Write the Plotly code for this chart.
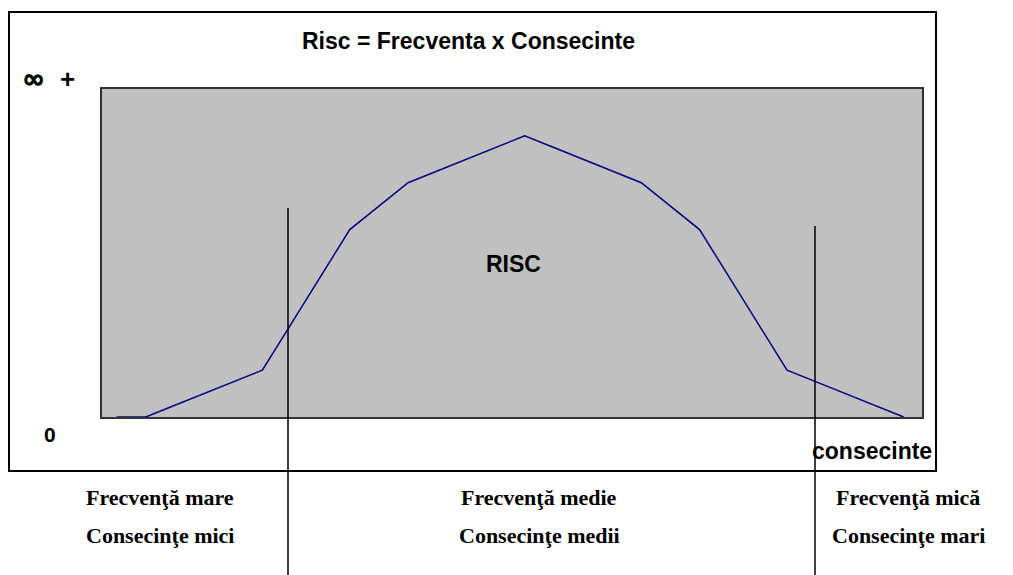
import plotly.graph_objects as go

# ---- data ----
categories = list(range(28))
risc_values = [0, 0, 1, 2, 3, 4, 8, 12, 16, 18, 20, 21, 22, 23, 24,
               23, 22, 21, 20, 18, 16, 12, 8, 4, 3, 2, 1, 0]
title_text = "Risc = Frecventa x Consecinte"
bottom_line1 = ["Frecvenţă mare", "Frecvenţă medie", "Frecvenţă mică"]
bottom_line2 = ["Consecinţe mici", "Consecinţe medii", "Consecinţe mari"]

# ---- layout geometry (screen pixels; page body has an 8px offset) ----
W, H = 1013, 575
OFF = 8
PL, PT, PR, PB = 102, 89, 922, 417      # plot area on screen
PW, PH = PR - PL, PB - PT


def px(x):
    return (x - PL) / PW


def py(y):
    return (PB - y) / PH


fig = go.Figure()
fig.add_trace(go.Scatter(
    x=categories, y=risc_values, mode="lines",
    line=dict(color="#000080", width=1.5), hoverinfo="skip", showlegend=False))

sans = "Liberation Sans, Arial, sans-serif"
serif = "Liberation Serif, Times New Roman, serif"

ann = []


def add_text(text, x, y, size, family=sans, xanchor="center"):
    ann.append(dict(text="<b>%s</b>" % text, x=px(x), y=py(y), xref="paper", yref="paper",
                    xanchor=xanchor, yanchor="middle", showarrow=False,
                    font=dict(family=family, size=size, color="black")))


add_text(title_text, 468, 41, 23)
# infinity sign drawn twice with a 1px shift to get a heavier stroke
add_text("∞", 33.5, 78, 27, "DejaVu Sans, sans-serif")
add_text("∞", 34.5, 78, 27, "DejaVu Sans, sans-serif")
add_text("+", 67, 79, 26)
add_text("RISC", 513, 264, 23)
add_text("0", 50, 434, 21)
add_text("consecinte", 872, 451, 23)

centers = [160, 539, 908]
for c, t1, t2 in zip(centers, bottom_line1, bottom_line2):
    add_text(t1, c, 497, 22, serif)
    add_text(t2, c, 535, 22, serif)

shapes = [
    # outer frame
    dict(type="rect", xref="paper", yref="paper", x0=px(9), x1=px(936), y0=py(471), y1=py(12),
         line=dict(color="black", width=2), layer="above"),
    # separators
    dict(type="line", xref="paper", yref="paper", x0=px(288), x1=px(288), y0=py(208), y1=py(590),
         line=dict(color="black", width=1.5)),
    dict(type="line", xref="paper", yref="paper", x0=px(815), x1=px(815), y0=py(226), y1=py(590),
         line=dict(color="black", width=1.5)),
]

axis_common = dict(showgrid=False, zeroline=False, showticklabels=False, ticks="",
                   showline=True, mirror=True, linecolor="#333333", linewidth=1.5)

fig.update_layout(
    width=W, height=H,
    margin=dict(l=PL - OFF, r=W - (PR - OFF), t=PT - OFF, b=H - (PB - OFF), pad=0),
    paper_bgcolor="white", plot_bgcolor="#C0C0C0",
    xaxis=dict(range=[-0.5, 27.63], **axis_common),
    yaxis=dict(range=[0, 28], **axis_common),
    annotations=ann, shapes=shapes, showlegend=False,
)

fig.write_html("out.html")
